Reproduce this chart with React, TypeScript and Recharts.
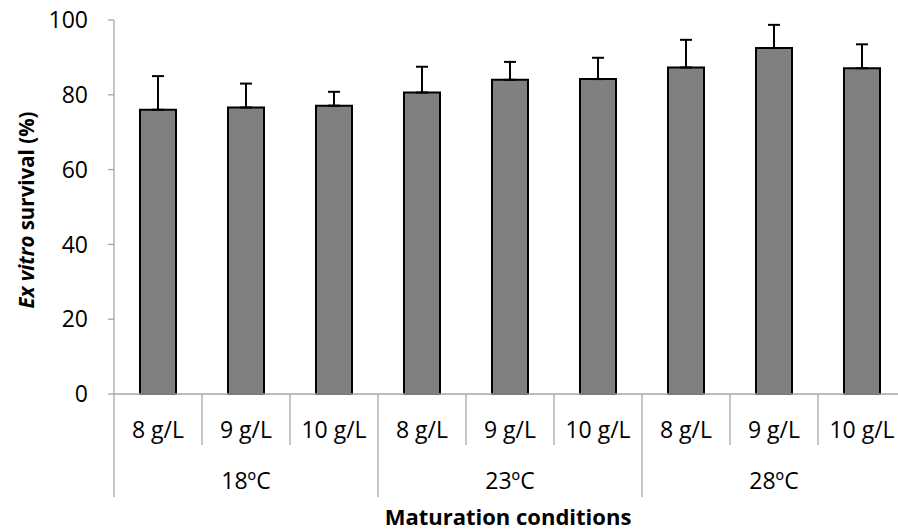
import React from 'react';
import { BarChart, Bar, XAxis, YAxis, ErrorBar } from 'recharts';

const concentrations = ['8 g/L', '9 g/L', '10 g/L'];
const temperatures = ['18ºC', '23ºC', '28ºC'];
const survival = [76.0, 76.6, 77.1, 80.6, 84.0, 84.2, 87.3, 92.5, 87.1];
const errorUp = [9.0, 6.4, 3.7, 6.9, 4.8, 5.7, 7.4, 6.2, 6.4];
const yTicks = [0, 20, 40, 60, 80, 100];

const data = temperatures.flatMap((t, ti) =>
  concentrations.map((c, ci) => {
    const i = ti * 3 + ci;
    return { key: `${t} ${c}`, temp: t, conc: c, value: survival[i], err: [0, errorUp[i]] };
  })
);

const FONT = '"Open Sans", "Noto Sans", sans-serif';
const AXIS = '#a6a6a6';

const XTick = (props: any) => {
  const { x, y, payload, index } = props;
  const half = payload && typeof payload.offset === 'number' && payload.offset > 0 ? payload.offset : 44;
  const d = data[index];
  const pos = index % 3;
  return (
    <g>
      <line x1={x - half} y1={y} x2={x - half} y2={y + (pos === 0 ? 103 : 51)} stroke={AXIS} strokeWidth={1.3} />
      {index === data.length - 1 && (
        <line x1={x + half} y1={y} x2={x + half} y2={y + 103} stroke={AXIS} strokeWidth={1.3} />
      )}
      <text x={x} y={y + 44} textAnchor="middle" fontSize={23} fontFamily={FONT} fill="#000">
        {d ? d.conc : ''}
      </text>
      {pos === 1 && d && (
        <text x={x} y={y + 95} textAnchor="middle" fontSize={23} fontFamily={FONT} fill="#000">
          {d.temp}
        </text>
      )}
    </g>
  );
};

const YLabel = () => (
  <text
    x={26}
    y={210}
    transform="rotate(-90 26 210)"
    textAnchor="middle"
    dominantBaseline="central"
    fontSize={20.5}
    fontWeight="bold"
    fontFamily={FONT}
    fill="#000"
  >
    <tspan fontStyle="italic">Ex vitro</tspan>
    <tspan> survival (%)</tspan>
  </text>
);

const XLabel = () => (
  <text x={508} y={525} textAnchor="middle" fontSize={22} fontWeight="bold" fontFamily={FONT} fill="#000">
    Maturation conditions
  </text>
);

export default function App() {
  return (
    <div style={{ position: 'fixed', left: 0, top: 0, width: 898, height: 531, overflow: 'hidden', background: '#fff' }}>
      <BarChart
        width={930}
        height={531}
        data={data}
        margin={{ top: 20, right: 24, bottom: 0, left: 0 }}
      >
        <XAxis
          dataKey="key"
          height={137}
          interval={0}
          tickSize={0}
          tickMargin={0}
          tickLine={false}
          axisLine={{ stroke: AXIS, strokeWidth: 1.3 }}
          tick={<XTick />}
          label={{ content: () => <XLabel /> }}
        />
        <YAxis
          width={114}
          domain={[0, 100]}
          ticks={yTicks}
          interval={0}
          tickSize={6}
          tickMargin={20}
          axisLine={{ stroke: AXIS, strokeWidth: 1.3 }}
          tickLine={{ stroke: AXIS, strokeWidth: 1.3 }}
          tick={{ fontSize: 23, fontFamily: FONT, fill: '#000' }}
          label={{ content: () => <YLabel /> }}
        />
        <Bar dataKey="value" barSize={36} fill="#808080" stroke="#000" strokeWidth={2} isAnimationActive={false}>
          <ErrorBar dataKey="err" direction="y" width={6} stroke="#000" strokeWidth={2} />
        </Bar>
      </BarChart>
    </div>
  );
}
